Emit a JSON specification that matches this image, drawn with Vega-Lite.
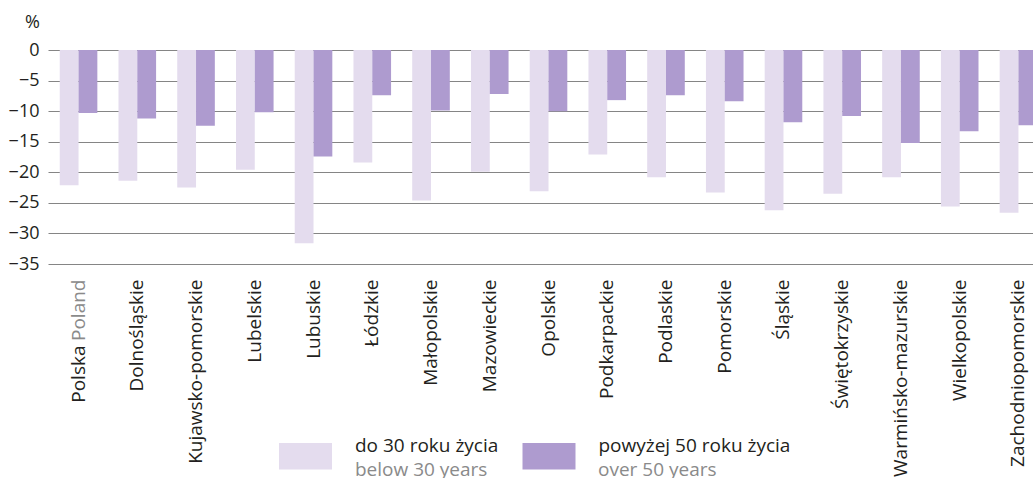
{
  "$schema": "https://vega.github.io/schema/vega-lite/v6.json",
  "autosize": {"type": "none"},
  "width": 985,
  "height": 214,
  "padding": {"left": 48, "top": 50, "right": 0, "bottom": 214},
  "config": {"view": {"stroke": null}, "font": "Open Sans"},
  "data": {"values": [
    {"region": "Polska", "series": "do 30 roku życia", "series_en": "below 30 years", "value": -22.1},
    {"region": "Polska", "series": "powyżej 50 roku życia", "series_en": "over 50 years", "value": -10.3},
    {"region": "Dolnośląskie", "series": "do 30 roku życia", "series_en": "below 30 years", "value": -21.4},
    {"region": "Dolnośląskie", "series": "powyżej 50 roku życia", "series_en": "over 50 years", "value": -11.2},
    {"region": "Kujawsko-pomorskie", "series": "do 30 roku życia", "series_en": "below 30 years", "value": -22.5},
    {"region": "Kujawsko-pomorskie", "series": "powyżej 50 roku życia", "series_en": "over 50 years", "value": -12.4},
    {"region": "Lubelskie", "series": "do 30 roku życia", "series_en": "below 30 years", "value": -19.6},
    {"region": "Lubelskie", "series": "powyżej 50 roku życia", "series_en": "over 50 years", "value": -10.2},
    {"region": "Lubuskie", "series": "do 30 roku życia", "series_en": "below 30 years", "value": -31.6},
    {"region": "Lubuskie", "series": "powyżej 50 roku życia", "series_en": "over 50 years", "value": -17.4},
    {"region": "Łódzkie", "series": "do 30 roku życia", "series_en": "below 30 years", "value": -18.4},
    {"region": "Łódzkie", "series": "powyżej 50 roku życia", "series_en": "over 50 years", "value": -7.4},
    {"region": "Małopolskie", "series": "do 30 roku życia", "series_en": "below 30 years", "value": -24.6},
    {"region": "Małopolskie", "series": "powyżej 50 roku życia", "series_en": "over 50 years", "value": -9.9},
    {"region": "Mazowieckie", "series": "do 30 roku życia", "series_en": "below 30 years", "value": -19.9},
    {"region": "Mazowieckie", "series": "powyżej 50 roku życia", "series_en": "over 50 years", "value": -7.2},
    {"region": "Opolskie", "series": "do 30 roku życia", "series_en": "below 30 years", "value": -23.1},
    {"region": "Opolskie", "series": "powyżej 50 roku życia", "series_en": "over 50 years", "value": -10.0},
    {"region": "Podkarpackie", "series": "do 30 roku życia", "series_en": "below 30 years", "value": -17.1},
    {"region": "Podkarpackie", "series": "powyżej 50 roku życia", "series_en": "over 50 years", "value": -8.2},
    {"region": "Podlaskie", "series": "do 30 roku życia", "series_en": "below 30 years", "value": -20.8},
    {"region": "Podlaskie", "series": "powyżej 50 roku życia", "series_en": "over 50 years", "value": -7.4},
    {"region": "Pomorskie", "series": "do 30 roku życia", "series_en": "below 30 years", "value": -23.3},
    {"region": "Pomorskie", "series": "powyżej 50 roku życia", "series_en": "over 50 years", "value": -8.4},
    {"region": "Śląskie", "series": "do 30 roku życia", "series_en": "below 30 years", "value": -26.2},
    {"region": "Śląskie", "series": "powyżej 50 roku życia", "series_en": "over 50 years", "value": -11.8},
    {"region": "Świętokrzyskie", "series": "do 30 roku życia", "series_en": "below 30 years", "value": -23.5},
    {"region": "Świętokrzyskie", "series": "powyżej 50 roku życia", "series_en": "over 50 years", "value": -10.8},
    {"region": "Warmińsko-mazurskie", "series": "do 30 roku życia", "series_en": "below 30 years", "value": -20.8},
    {"region": "Warmińsko-mazurskie", "series": "powyżej 50 roku życia", "series_en": "over 50 years", "value": -15.2},
    {"region": "Wielkopolskie", "series": "do 30 roku życia", "series_en": "below 30 years", "value": -25.6},
    {"region": "Wielkopolskie", "series": "powyżej 50 roku życia", "series_en": "over 50 years", "value": -13.3},
    {"region": "Zachodniopomorskie", "series": "do 30 roku życia", "series_en": "below 30 years", "value": -26.6},
    {"region": "Zachodniopomorskie", "series": "powyżej 50 roku życia", "series_en": "over 50 years", "value": -12.3}
  ]},
  "layer": [
    {
      "mark": {"type": "bar"},
      "encoding": {
        "x": {
          "field": "region", "type": "nominal", "sort": null,
          "scale": {"range": [0, 1001], "paddingInner": 0.36, "paddingOuter": 0.2},
          "axis": {
            "orient": "bottom",
            "title": null, "labelAngle": -90, "labelAlign": "right", "labelBaseline": "middle",
            "labelPadding": 15, "ticks": false, "tickSize": 0, "domain": false, "grid": false,
            "labelFontSize": 19, "labelFont": "Open Sans", "labelLimit": 300, "labelOverlap": false,
            "labelColor": {"condition": {"test": "datum.value == 'Polska'", "value": "#8a8a8a"}, "value": "#231f20"},
            "labelExpr": "datum.value == 'Polska' ? 'Poland' : datum.label"
          }
        },
        "xOffset": {
          "field": "series", "type": "nominal",
          "sort": ["do 30 roku życia", "powyżej 50 roku życia"],
          "scale": {"paddingInner": 0, "paddingOuter": 0}
        },
        "y": {
          "field": "value", "type": "quantitative",
          "scale": {"domain": [-35, 0], "nice": false},
          "axis": {
            "title": "%", "titleAngle": 0, "titleX": -16, "titleY": -28, "titleAlign": "center",
            "titleBaseline": "middle", "titleFontWeight": "normal", "titleFontSize": 18,
            "titleColor": "#231f20", "titleFont": "Open Sans",
            "values": [0, -5, -10, -15, -20, -25, -30, -35],
            "grid": true, "gridColor": "#858585", "gridWidth": 1.2,
            "domain": false, "ticks": false, "labelPadding": 9,
            "labelFontSize": 18, "labelColor": "#231f20", "labelFont": "Open Sans"
          }
        },
        "fill": {
          "field": "series", "type": "nominal",
          "scale": {"domain": ["do 30 roku życia", "powyżej 50 roku życia"], "range": ["#e4dcee", "#ae9bcf"]},
          "legend": {
            "orient": "none", "legendX": 231, "legendY": 379.5, "direction": "horizontal", "title": null,
            "symbolType": "M-1,-0.5H1V0.5H-1Z", "symbolSize": 2809, "symbolStrokeWidth": 0,
            "symbolOpacity": 1,
            "labelFontSize": 19, "labelFont": "Open Sans", "labelColor": "#231f20",
            "labelOffset": 23, "columnPadding": 23.5, "labelBaseline": "bottom", "labelLimit": 400
          }
        },
        "opacity": {
          "field": "series_en", "type": "ordinal",
          "scale": {"domain": ["below 30 years", "over 50 years"], "range": [1, 1]},
          "legend": {
            "orient": "none", "legendX": 231, "legendY": 384.5, "direction": "horizontal", "title": null,
            "symbolType": "M-1,-0.5H1V0.5H-1Z", "symbolSize": 2809, "symbolStrokeWidth": 0,
            "symbolOpacity": 0, "symbolFillColor": "transparent", "symbolStrokeColor": "transparent",
            "labelFontSize": 19, "labelFont": "Open Sans", "labelColor": "#8a8a8a",
            "labelOffset": 23, "columnPadding": 34, "labelBaseline": "top", "labelLimit": 400,
            "encode": {"symbols": {"update": {"opacity": {"value": 0}}}}
          }
        }
      }
    },
    {
      "mark": {"type": "bar", "opacity": 0},
      "encoding": {
        "x": {
          "field": "region", "type": "nominal", "sort": null,
          "axis": {
            "orient": "bottom",
            "title": null, "labelAngle": -90, "labelAlign": "right", "labelBaseline": "middle",
            "labelPadding": 81, "ticks": false, "tickSize": 0, "domain": false, "grid": false,
            "labelFontSize": 19, "labelFont": "Open Sans", "labelLimit": 300, "labelOverlap": false,
            "labelColor": "#231f20",
            "labelExpr": "datum.value == 'Polska' ? 'Polska' : ''"
          }
        }
      }
    }
  ],
  "resolve": {"axis": {"x": "independent"}}
}
